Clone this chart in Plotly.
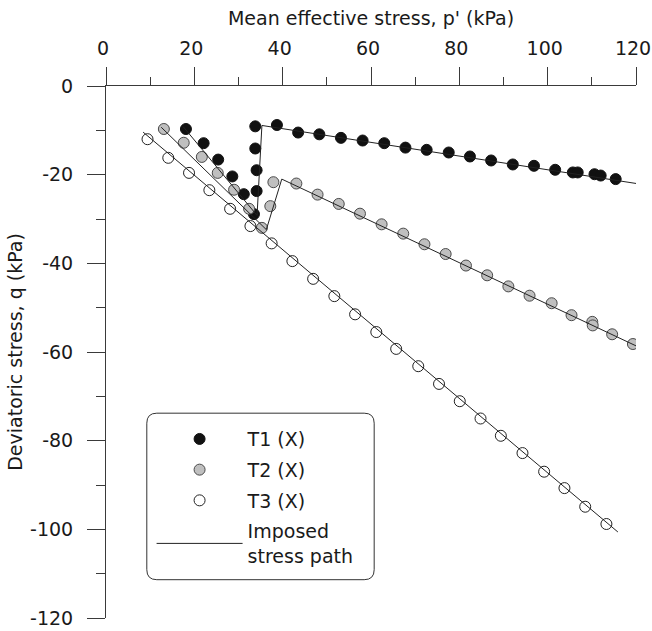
import plotly.graph_objects as go

# Measured stress points, p' (kPa) and q (kPa)
t1_p = [18.1, 22.1, 25.4, 28.6, 31.2, 33.5, 34.1, 34.1, 33.8, 33.8, 38.7,
        43.5, 48.3, 53.2, 58.1, 63.0, 67.8, 72.6, 77.6, 82.4, 87.2, 92.1,
        96.9, 101.7, 105.7, 106.8, 110.6, 112.0, 115.4]
t1_q = [-9.7, -12.9, -16.6, -20.4, -24.4, -28.9, -23.7, -19.0, -14.1, -9.1, -8.8,
        -10.5, -10.9, -11.7, -12.3, -12.9, -13.9, -14.4, -15.0, -15.9, -16.8, -17.7,
        -18.0, -18.9, -19.5, -19.5, -19.9, -20.2, -21.0]

t2_p = [13.1, 17.6, 21.7, 25.3, 29.0, 32.4, 35.3, 37.2, 37.9, 43.1,
        47.9, 52.7, 57.5, 62.4, 67.3, 72.1, 76.9, 81.5, 86.3, 91.1,
        95.9, 100.9, 105.4, 110.1, 110.2, 114.6, 119.3]
t2_q = [-9.7, -12.8, -16.0, -19.6, -23.4, -27.7, -32.0, -27.1, -21.7, -22.0,
        -24.5, -26.6, -28.8, -31.2, -33.3, -35.7, -37.9, -40.5, -42.7, -45.2,
        -47.3, -49.0, -51.7, -53.2, -54.0, -56.0, -58.2]

t3_p = [9.4, 14.1, 18.8, 23.4, 28.1, 32.7, 37.5, 42.2, 46.9, 51.7, 56.4, 61.2,
        65.7, 70.7, 75.4, 80.1, 84.8, 89.4, 94.3, 99.2, 103.8, 108.5, 113.3]
t3_q = [-12.0, -16.2, -19.6, -23.5, -27.7, -31.6, -35.5, -39.5, -43.5, -47.4, -51.5, -55.5,
        -59.3, -63.2, -67.2, -71.1, -75.0, -78.9, -82.8, -87.0, -90.7, -94.9, -98.8]

# Imposed stress paths (one segment list per test, separated by gaps)
path_p = [17.5, 34.2, 35.3, 120.1, None,
          12.5, 36.3, 39.8, 120.4, None,
          8.4, 115.9]
path_q = [-9.2, -29.2, -8.9, -22.0, None,
          -9.3, -32.4, -21.0, -58.8, None,
          -10.4, -100.6]

x_ticks = [0, 20, 40, 60, 80, 100, 120]
x_tick_text = ["0", "20", "40", "60", "80", "100", "120"]
y_ticks = [0, -20, -40, -60, -80, -100, -120]
y_tick_text = ["0", "-20", "-40", "-60", "-80", "-100", "-120"]

FONT = "DejaVu Sans"
AX = "#3a3a3a"

fig = go.Figure()

fig.add_trace(go.Scatter(
    x=t1_p, y=t1_q, mode="markers", name="T1 (X)", legendgroup="t1",
    marker=dict(size=11, color="#111111", line=dict(color="#111111", width=1)),
))
fig.add_trace(go.Scatter(
    x=t2_p, y=t2_q, mode="markers", name="T2 (X)", legendgroup="t2",
    marker=dict(size=11, color="#bfbfbf", line=dict(color="#4a4a4a", width=1)),
))
fig.add_trace(go.Scatter(
    x=t3_p, y=t3_q, mode="markers", name="T3 (X)", legendgroup="t3",
    marker=dict(size=11, color="#ffffff", line=dict(color="#222222", width=1)),
))
fig.add_trace(go.Scatter(
    x=path_p, y=path_q, mode="lines", name="Imposed<br>stress path",
    legendgroup="path",
    line=dict(color="#222222", width=1), connectgaps=False,
))

# Rounded frame around the legend (paper coordinates)
x0, x1 = 0.077, 0.506
y0, y1 = 0.072, 0.385
rx, ry = 10 / 530, 10 / 532
legend_box = (
    f"M{x0 + rx},{y1} L{x1 - rx},{y1} Q{x1},{y1} {x1},{y1 - ry} "
    f"L{x1},{y0 + ry} Q{x1},{y0} {x1 - rx},{y0} "
    f"L{x0 + rx},{y0} Q{x0},{y0} {x0},{y0 + ry} "
    f"L{x0},{y1 - ry} Q{x0},{y1} {x0 + rx},{y1} Z"
)
fig.add_shape(type="path", path=legend_box, xref="paper", yref="paper",
              line=dict(color="#333333", width=1), layer="above")

fig.update_layout(
    template="none",
    width=652, height=631,
    margin=dict(l=106, r=16, t=86, b=13, autoexpand=False),
    paper_bgcolor="white", plot_bgcolor="white",
    font=dict(family=FONT, size=19, color="#1a1a1a"),
    showlegend=True,
    legend=dict(
        x=0.086, y=0.372, xanchor="left", yanchor="top",
        bgcolor="rgba(0,0,0,0)", borderwidth=0,
        font=dict(family=FONT, size=19, color="#1a1a1a"),
        itemwidth=86, tracegroupgap=3, traceorder="grouped",
    ),
    xaxis=dict(
        side="top", range=[0, 120], tickvals=x_ticks, ticktext=x_tick_text,
        automargin=False,
        ticks="outside", ticklen=18, tickcolor=AX, tickwidth=1,
        showline=True, linecolor=AX, linewidth=1,
        showgrid=False, zeroline=False, ticklabelstandoff=4,
        ticklabelshift=-3, ticklabeloverflow="allow",
        minor=dict(dtick=10, tick0=0, ticks="outside", ticklen=8,
                   tickcolor=AX, tickwidth=1, showgrid=False),
        title=dict(text="Mean effective stress, p' (kPa)", standoff=6,
                   font=dict(family=FONT, size=19)),
    ),
    yaxis=dict(
        range=[-120, 0], tickvals=y_ticks, ticktext=y_tick_text,
        automargin=False,
        ticks="outside", ticklen=18, tickcolor=AX, tickwidth=1,
        showline=True, linecolor=AX, linewidth=1,
        showgrid=False, zeroline=False, ticklabelstandoff=10,
        ticklabeloverflow="allow",
        minor=dict(dtick=10, tick0=0, ticks="outside", ticklen=9,
                   tickcolor=AX, tickwidth=1, showgrid=False),
        title=dict(text="Deviatoric stress, q (kPa)", standoff=2,
                   font=dict(family=FONT, size=19)),
    ),
)

fig.write_html("out.html")
